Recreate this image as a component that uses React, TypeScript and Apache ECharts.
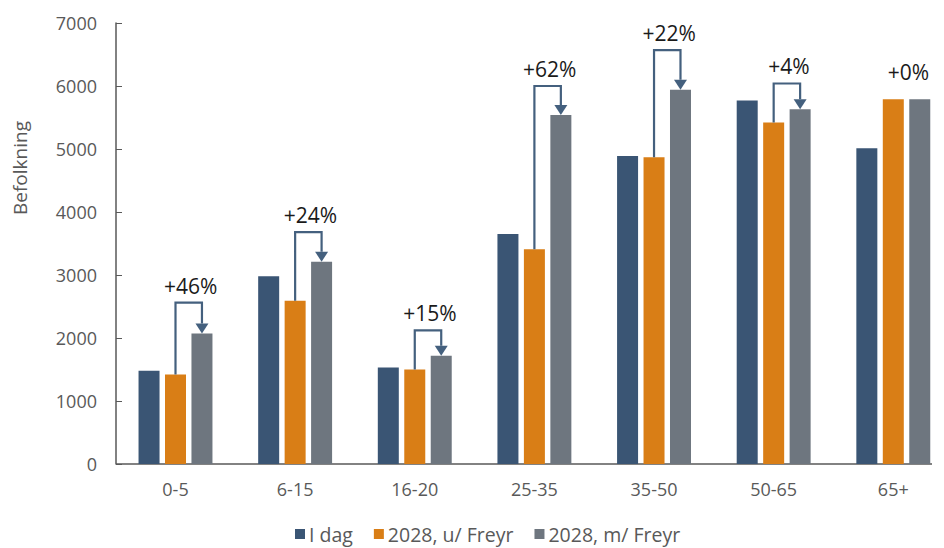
import React, { useEffect, useRef } from "react";
import * as echarts from "echarts";

const categories = ["0-5", "6-15", "16-20", "25-35", "35-50", "50-65", "65+"];
const iDag = [1480, 2980, 1530, 3650, 4890, 5770, 5010];
const u2028 = [1420, 2590, 1500, 3410, 4870, 5420, 5790];
const m2028 = [2070, 3210, 1720, 5540, 5940, 5630, 5790];
const changeLabels = ["+46%", "+24%", "+15%", "+62%", "+22%", "+4%", "+0%"];
const arrowLevels = [2560, 3680, 2120, 6000, 6570, 6040, 5950];
const seriesNames = ["I dag", "2028, u/ Freyr", "2028, m/ Freyr"];
const yTicks = { min: 0, max: 7000, interval: 1000 };

const COLORS = ["#3A5574", "#D97E16", "#6E767F"];
const ARROW = "#44607E";
const FONT = "'Open Sans', 'Noto Sans', sans-serif";
const BAR_W = 21;
const BAR_GAP = 0.26;

export default function App() {
  const ref = useRef<HTMLDivElement>(null);
  useEffect(() => {
    if (!ref.current) return;
    const chart = echarts.init(ref.current, undefined, { renderer: "svg" });
    const step = BAR_W * (1 + BAR_GAP);
    const arrowData = categories.map((_, i) => [i, u2028[i], m2028[i], arrowLevels[i], changeLabels[i]]);
    chart.setOption({
      animation: false,
      textStyle: { fontFamily: FONT },
      grid: { left: 175.5, right: 50.7, top: 23, bottom: 84, containLabel: false },
      legend: {
        bottom: -1,
        left: 290,
        itemWidth: 10,
        itemHeight: 10,
        itemGap: 21,
        icon: "rect",
        textStyle: { color: "#595959", fontSize: 19.5, fontFamily: FONT, padding: [0, 0, 0, -1] },
        data: seriesNames,
      },
      xAxis: {
        type: "category",
        data: categories,
        boundaryGap: false,
        axisLine: { show: false },
        axisTick: { show: false },
        axisLabel: { color: "#595959", fontSize: 18, margin: 16, fontFamily: FONT },
      },
      yAxis: {
        type: "value",
        min: yTicks.min,
        max: yTicks.max,
        interval: yTicks.interval,
        offset: 59.5,
        splitLine: { show: false },
        axisLine: { show: true, lineStyle: { color: "#595959", width: 1.5 } },
        axisTick: { show: true, inside: true, length: 6, lineStyle: { color: "#595959" } },
        axisLabel: {
          color: "#595959",
          fontSize: 18,
          margin: 19,
          fontFamily: FONT,
          formatter: (v: number) => String(v),
        },
      },
      graphic: [
        {
          type: "text",
          x: 20,
          y: 168,
          rotation: Math.PI / 2,
          style: {
            text: "Befolkning",
            fill: "#595959",
            fontSize: 19,
            fontFamily: FONT,
            align: "center",
            verticalAlign: "middle",
          },
        },
        {
          type: "line",
          shape: { x1: 116, y1: 464, x2: 932, y2: 464 },
          style: { stroke: "#595959", lineWidth: 1.5 },
        },
      ],
      series: [
        ...seriesNames.map((name, k) => ({
          name,
          type: "bar",
          data: [iDag, u2028, m2028][k],
          barWidth: BAR_W,
          barGap: `${BAR_GAP * 100}%`,
          clip: false,
          itemStyle: { color: COLORS[k] },
        })),
        {
          type: "custom",
          name: "arrows",
          data: arrowData,
          silent: true,
          clip: false,
          z: 10,
          renderItem: (params: any, api: any) => {
            const i = api.value(0);
            const o = api.value(1);
            const g = api.value(2);
            const lvl = api.value(3);
            const label = changeLabels[params.dataIndex];
            const c = api.coord([i, 0])[0];
            const xo = c;
            const xg = c + step;
            const yo = api.coord([i, o])[1];
            const yg = api.coord([i, g])[1];
            const yl = api.coord([i, lvl])[1];
            const children: any[] = [];
            if (g > o) {
              const headH = 10;
              const headW = 13;
              children.push({
                type: "polyline",
                shape: { points: [[xo, yo], [xo, yl], [xg, yl], [xg, yg - headH]] },
                style: { stroke: ARROW, lineWidth: 2.2, fill: null },
              });
              children.push({
                type: "polygon",
                shape: { points: [[xg - headW / 2, yg - headH], [xg + headW / 2, yg - headH], [xg, yg]] },
                style: { fill: ARROW },
              });
            }
            children.push({
              type: "text",
              style: {
                text: label,
                x: (xo + xg) / 2 + 2,
                y: yl - 17,
                align: "center",
                verticalAlign: "middle",
                fill: "#1a1a1a",
                fontSize: 21,
                fontFamily: FONT,
              },
            });
            return { type: "group", children };
          },
        },
      ],
    });
    return () => chart.dispose();
  }, []);
  return <div ref={ref} style={{ width: 944, height: 548, position: "absolute", left: 0, top: 0 }} />;
}
